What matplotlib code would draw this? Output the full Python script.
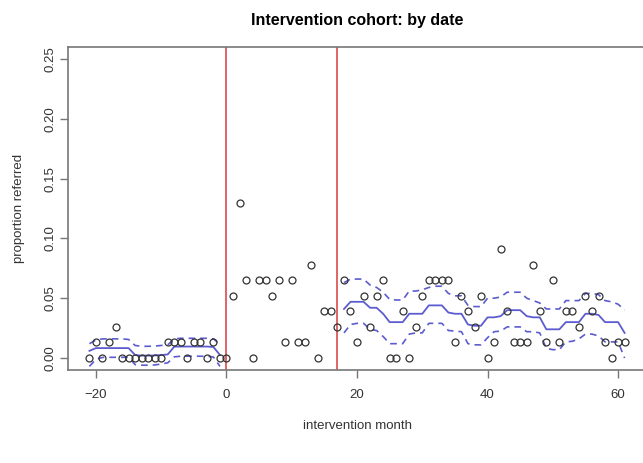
import matplotlib
matplotlib.use("Agg")
import matplotlib.pyplot as plt

plt.rcParams['font.family'] = ['Liberation Sans', 'DejaVu Sans']

# observed proportion referred, by intervention month
months = list(range(-21, 62))
props = [0, 0.013, 0, 0.013, 0.026, 0, 0, 0, 0, 0, 0, 0, 0.013, 0.013, 0.013, 0,
         0.013, 0.013, 0, 0.013, 0, 0,
         0.052, 0.13, 0.065, 0, 0.065, 0.065, 0.052, 0.065, 0.013, 0.065, 0.013,
         0.013, 0.078, 0, 0.039, 0.039, 0.026,
         0.065, 0.039, 0.013, 0.052, 0.026, 0.052, 0.065, 0, 0, 0.039, 0, 0.026,
         0.052, 0.065, 0.065, 0.065, 0.065, 0.013, 0.052, 0.039, 0.026, 0.052,
         0, 0.013, 0.091, 0.039, 0.013, 0.013, 0.013, 0.078, 0.039, 0.013, 0.065,
         0.013, 0.039, 0.039, 0.026, 0.052, 0.039, 0.052, 0.013, 0, 0.013, 0.013]

# fitted model, pre-intervention period
pre_months = list(range(-21, 0))
pre_fit = [0.006, 0.0083, 0.0083, 0.0083, 0.0083, 0.0083, 0.0083, 0.0025, 0.002,
           0.002, 0.0022, 0.0025, 0.003, 0.0095, 0.0096, 0.0096, 0.0096, 0.0096,
           0.0096, 0.0092, 0.0025]
pre_upper = [0.012, 0.015, 0.016, 0.016, 0.016, 0.016, 0.0155, 0.0105, 0.0098,
             0.0098, 0.01, 0.0105, 0.011, 0.016, 0.0165, 0.0165, 0.0165, 0.0165,
             0.0165, 0.016, 0.0115]
pre_lower = [-0.007, -0.001, 0.0005, 0.0006, 0.0006, 0.0006, 0.0006, -0.0055,
             -0.006, -0.006, -0.0058, -0.005, -0.004, 0.001, 0.0015, 0.0015,
             0.0015, 0.0015, 0.0015, 0.0008, -0.007]

# fitted model, post-intervention period
post_months = list(range(18, 62))
post_fit = [0.041, 0.047, 0.047, 0.047, 0.042, 0.042, 0.037, 0.030, 0.030, 0.030,
            0.037, 0.037, 0.037, 0.044, 0.044, 0.044, 0.038, 0.037, 0.037, 0.028,
            0.027, 0.027, 0.034, 0.034, 0.035, 0.040, 0.040, 0.040, 0.035, 0.034,
            0.034, 0.024, 0.024, 0.024, 0.030, 0.030, 0.030, 0.037, 0.037, 0.036,
            0.030, 0.030, 0.030, 0.021]
post_upper = [0.063, 0.066, 0.066, 0.066, 0.061, 0.059, 0.055, 0.049, 0.0485,
              0.0485, 0.056, 0.056, 0.057, 0.059, 0.060, 0.060, 0.054, 0.052,
              0.052, 0.044, 0.043, 0.043, 0.050, 0.050, 0.051, 0.055, 0.055,
              0.055, 0.050, 0.048, 0.046, 0.041, 0.041, 0.041, 0.048, 0.048,
              0.048, 0.054, 0.054, 0.053, 0.048, 0.047, 0.045, 0.040]
post_lower = [0.021, 0.028, 0.029, 0.029, 0.024, 0.023, 0.018, 0.012, 0.012, 0.012,
              0.020, 0.021, 0.021, 0.029, 0.029, 0.029, 0.023, 0.0225, 0.022,
              0.012, 0.011, 0.011, 0.017, 0.022, 0.0225, 0.026, 0.026, 0.026,
              0.022, 0.022, 0.021, 0.008, 0.007, 0.007, 0.0135, 0.014, 0.016,
              0.020, 0.020, 0.0185, 0.0135, 0.0135, 0.0135, 0.0]

phase_starts = [0, 17]
xticks = [-20, 0, 20, 40, 60]
yticks = [0.00, 0.05, 0.10, 0.15, 0.20, 0.25]

fig = plt.figure(figsize=(6.43, 4.63), dpi=100)
ax = fig.add_axes([0.1058, 0.2009, 0.8989, 0.6976])

blue = '#5c5cd0'
for v in phase_starts:
    ax.axvline(v, color='#e06464', lw=1.4, zorder=1)

ax.plot(pre_months, pre_fit, color=blue, lw=1.3)
ax.plot(pre_months, pre_upper, color=blue, lw=1.2, dashes=(4, 3))
ax.plot(pre_months, pre_lower, color=blue, lw=1.2, dashes=(4, 3))
ax.plot(post_months, post_fit, color=blue, lw=1.3)
ax.plot(post_months, post_upper, color=blue, lw=1.2, dashes=(4, 3))
ax.plot(post_months, post_lower, color=blue, lw=1.2, dashes=(4, 3))

ax.plot(months, props, 'o', mfc='none', mec='#333333', ms=5, mew=0.9, zorder=3)

ax.set_xlim(-24.28, 64.28)
ax.set_ylim(-0.01, 0.26)
ax.set_xticks(xticks)
ax.set_yticks(yticks)
ax.set_yticklabels(['%.2f' % t for t in yticks], rotation=90, va='center')

for s in ax.spines.values():
    s.set_color('#777777')
    s.set_linewidth(1.2)
ax.tick_params(direction='out', length=5.5, width=1, color='#777777',
               labelsize=9.5, labelcolor='#333333')
ax.tick_params(axis='x', pad=8)
ax.tick_params(axis='y', pad=3)

ax.set_xlabel('intervention month', fontsize=9.5, color='#333333', labelpad=14)
ax.set_ylabel('proportion referred', fontsize=9.5, color='#333333', labelpad=14)
ax.set_title('Intervention cohort: by date', fontsize=11.5, fontweight='bold',
             pad=16)

fig.savefig('out.png', dpi=100)
